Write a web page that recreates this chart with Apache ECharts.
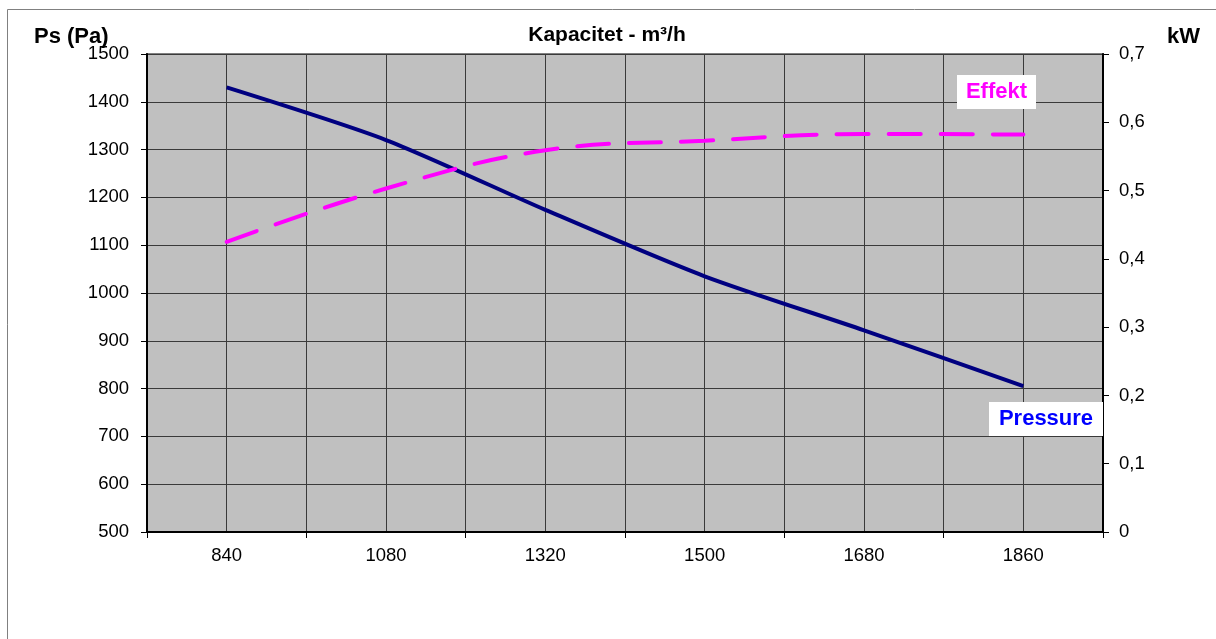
<!DOCTYPE html>
<html>
<head>
<meta charset="utf-8">
<script src="https://cdn.jsdelivr.net/npm/echarts@6/dist/echarts.min.js"></script>
<style>
  html, body { margin: 0; padding: 0; background: #fff; }
  #main { width: 1216px; height: 639px; }
</style>
</head>
<body>
<div id="main"></div>
<script>
// kapacitet m3/h
const categories = ['840', '1080', '1320', '1500', '1680', '1860']
// Ps (Pa)
const pressure = [1430, 1320, 1174, 1035, 922, 805]
// kW
const effekt = [0.425, 0.503, 0.559, 0.573, 0.583, 0.582]

const FONT = 'Liberation Sans, Arial, sans-serif'

var chartDom = document.getElementById('main');
var myChart = echarts.init(chartDom);

const option = {
    animation: false,
    backgroundColor: '#fff',
    textStyle: { fontFamily: FONT },
    grid: {
        left: 147,
        right: 113,
        top: 54,
        bottom: 107,
        show: true,
        backgroundColor: '#c0c0c0',
        borderColor: '#808080',
        borderWidth: 2
    },
    xAxis: [
        {
            type: 'category',
            data: categories,
            boundaryGap: true,
            axisLine: { lineStyle: { color: '#000', width: 2 } },
            axisTick: { show: true, length: 6, lineStyle: { color: '#000' } },
            axisLabel: { color: '#000', fontSize: 18.5, margin: 14, fontFamily: FONT },
            splitLine: { show: false }
        },
        {
            // only for the vertical grid lines (half category steps)
            type: 'value',
            position: 'bottom',
            min: 0,
            max: 12,
            interval: 1,
            axisLine: { show: false },
            axisTick: { show: false },
            axisLabel: { show: false },
            splitLine: { show: true, lineStyle: { color: '#3a3a3a', width: 1 } }
        }
    ],
    yAxis: [
        {
            type: 'value',
            min: 500,
            max: 1500,
            interval: 100,
            position: 'left',
            axisLine: { show: true, lineStyle: { color: '#000', width: 2 } },
            axisTick: { show: true, length: 6, lineStyle: { color: '#000' } },
            axisLabel: {
                color: '#000', fontSize: 18.5, margin: 18, fontFamily: FONT,
                formatter: (v) => String(v)
            },
            splitLine: { show: true, lineStyle: { color: '#3a3a3a', width: 1 } }
        },
        {
            type: 'value',
            min: 0,
            max: 0.7,
            interval: 0.1,
            position: 'right',
            axisLine: { show: true, lineStyle: { color: '#000', width: 2 } },
            axisTick: { show: true, length: 6, lineStyle: { color: '#000' } },
            axisLabel: {
                color: '#000', fontSize: 18.5, margin: 16, fontFamily: FONT,
                formatter: (v) => v === 0 ? '0' : v.toFixed(1).replace('.', ',')
            },
            splitLine: { show: false }
        }
    ],
    series: [
        {
            name: 'Pressure',
            type: 'line',
            xAxisIndex: 0,
            yAxisIndex: 0,
            data: pressure,
            smooth: 0.25,
            symbol: 'none',
            lineStyle: { color: '#000080', width: 4 },
            z: 3
        },
        {
            name: 'Effekt',
            type: 'line',
            xAxisIndex: 0,
            yAxisIndex: 1,
            data: effekt,
            smooth: 0.4,
            symbol: 'none',
            lineStyle: { color: '#ff00ff', width: 4, type: [32, 20], cap: 'round' },
            z: 4
        }
    ],
    graphic: [
        {
            // chart frame
            type: 'rect',
            shape: { x: 7.5, y: 9.5, width: 1300, height: 700 },
            style: { fill: 'none', stroke: '#808080', lineWidth: 1 },
            silent: true
        },
        {
            type: 'text', x: 607, y: 35,
            style: { text: 'Kapacitet - m³/h', font: 'bold 21px ' + FONT, fill: '#000', align: 'center', verticalAlign: 'middle' }
        },
        {
            type: 'text', x: 34, y: 37,
            style: { text: 'Ps (Pa)', font: 'bold 22px ' + FONT, fill: '#000', align: 'left', verticalAlign: 'middle' }
        },
        {
            type: 'text', x: 1167, y: 37,
            style: { text: 'kW', font: 'bold 22px ' + FONT, fill: '#000', align: 'left', verticalAlign: 'middle' }
        },
        {
            type: 'rect', shape: { x: 957, y: 75, width: 79, height: 34 },
            style: { fill: '#fff' }, z: 10
        },
        {
            type: 'text', x: 996.5, y: 92, z: 11,
            style: { text: 'Effekt', font: 'bold 22px ' + FONT, fill: '#ff00ff', align: 'center', verticalAlign: 'middle' }
        },
        {
            type: 'rect', shape: { x: 989, y: 402, width: 114, height: 34 },
            style: { fill: '#fff' }, z: 10
        },
        {
            type: 'text', x: 1046, y: 419, z: 11,
            style: { text: 'Pressure', font: 'bold 22px ' + FONT, fill: '#0000ff', align: 'center', verticalAlign: 'middle' }
        }
    ]
};
myChart.setOption(option)
</script>
</body>
</html>
